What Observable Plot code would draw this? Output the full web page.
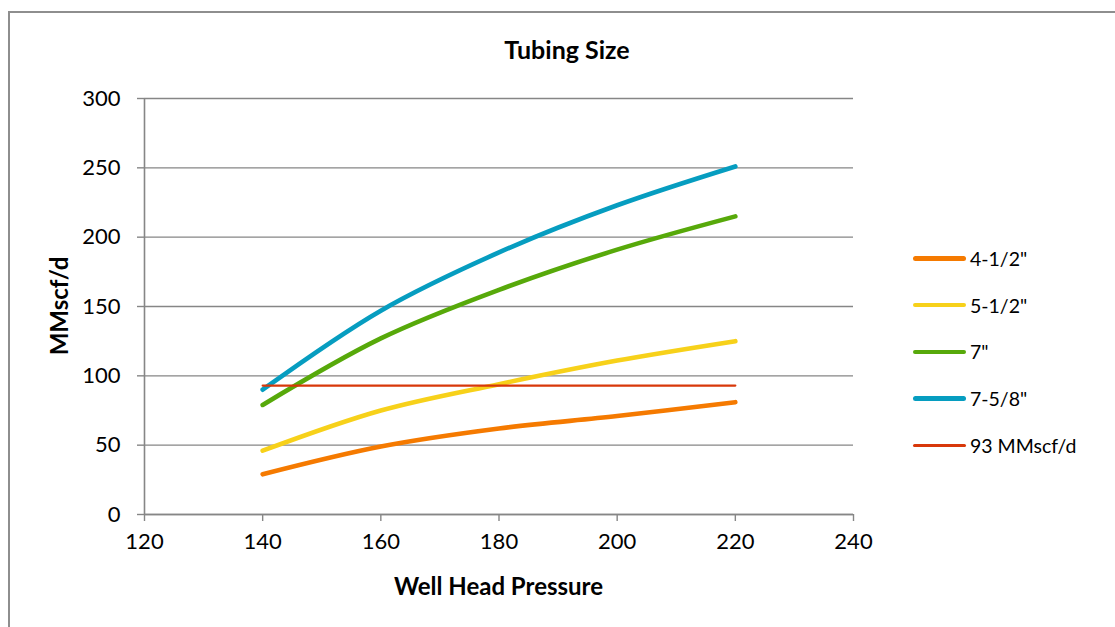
<!DOCTYPE html>
<html>
<head>
<meta charset="utf-8">
<script src="https://cdn.jsdelivr.net/npm/d3@7"></script>
<script src="https://cdn.jsdelivr.net/npm/@observablehq/plot@0.6"></script>
<style>
  html, body { margin: 0; padding: 0; background: #fff; overflow: hidden; }
  body { width: 1115px; height: 627px; position: relative; font-family: Lato, "Open Sans", sans-serif; color: #000; }
  #frame { position: absolute; left: 8px; top: 11px; width: 1130px; height: 640px; border: 2px solid #8e8e8e; box-sizing: border-box; }
  #chart { position: absolute; left: 0; top: 0; }
  .title { position: absolute; font-weight: bold; white-space: nowrap; }
  #title { left: 0; width: 1134px; top: 34px; text-align: center; font-size: 25px; }
  #xtitle { left: 144px; width: 709px; top: 571px; text-align: center; font-size: 24px; }
  #ytitle { left: 58px; top: 306px; font-size: 24px; transform: translate(-50%, -50%) rotate(-90deg); }
  #legend { position: absolute; left: 913px; top: 235px; }
  .item { display: flex; align-items: center; height: 46.8px; font-size: 19.5px; }
  .sw { width: 53px; margin-right: 4px; border-radius: 3px; }
</style>
</head>
<body>
<div id="frame"></div>
<div id="chart"></div>
<div id="title" class="title">Tubing Size</div>
<div id="xtitle" class="title">Well Head Pressure</div>
<div id="ytitle" class="title">MMscf/d</div>
<div id="legend"></div>
<script>
// Data
const pressure = [140, 160, 180, 200, 220];
const tubing4_5 = [29, 49, 62, 71, 81];
const tubing5_5 = [46, 75, 94, 111, 125];
const tubing7 = [79, 127, 162, 191, 215];
const tubing7_625 = [90, 147, 189, 223, 251];
const limit93 = [93, 93, 93, 93, 93];

const seriesNames = ['4-1/2"', '5-1/2"', '7"', '7-5/8"', '93 MMscf/d'];
const seriesValues = [tubing4_5, tubing5_5, tubing7, tubing7_625, limit93];
const seriesColors = ["#F57A00", "#F7D11A", "#57A90A", "#069DC0", "#D8380A"];
const seriesWidths = [4.6, 4.6, 4.6, 4.6, 2.2];

const xTicks = [120, 140, 160, 180, 200, 220, 240];
const yTicks = [0, 50, 100, 150, 200, 250, 300];

const rows = [];
seriesNames.forEach((name, i) => {
  pressure.forEach((p, j) => rows.push({series: name, pressure: p, value: seriesValues[i][j]}));
});

const gray = "#868686";
const lineMarks = seriesNames.map((name, i) =>
  Plot.line(rows.filter(d => d.series === name), {
    x: "pressure", y: "value", stroke: "series",
    strokeWidth: seriesWidths[i], strokeLinecap: "round",
    curve: i === 4 ? "linear" : "catmull-rom"
  })
);

const chart = Plot.plot({
  width: 1115,
  height: 627,
  marginLeft: 144,
  marginRight: 262,
  marginTop: 98,
  marginBottom: 113,
  style: {fontSize: "22px", fontFamily: "Lato, 'Open Sans', sans-serif", background: "transparent", overflow: "visible"},
  x: {domain: [120, 240]},
  y: {domain: [0, 300]},
  color: {domain: seriesNames, range: seriesColors},
  marks: [
    Plot.gridY(yTicks, {stroke: gray, strokeOpacity: 1, strokeWidth: 1.4}),
    Plot.axisY(yTicks, {tickSize: 7, tickPadding: 17, stroke: gray, fill: "black", strokeWidth: 1.4, label: null}),
    Plot.axisX(xTicks, {tickSize: 7, tickPadding: 12, stroke: gray, fill: "black", strokeWidth: 1.4, label: null}),
    Plot.ruleX([120], {stroke: gray, strokeWidth: 1.6}),
    Plot.ruleY([0], {stroke: gray, strokeWidth: 1.6}),
    ...lineMarks
  ]
});
document.getElementById("chart").appendChild(chart);

const legend = document.getElementById("legend");
seriesNames.forEach((name, i) => {
  const item = document.createElement("div");
  item.className = "item";
  const sw = document.createElement("div");
  sw.className = "sw";
  sw.style.height = seriesWidths[i] + "px";
  sw.style.background = seriesColors[i];
  const label = document.createElement("span");
  label.textContent = name;
  item.appendChild(sw);
  item.appendChild(label);
  legend.appendChild(item);
});
</script>
</body>
</html>
